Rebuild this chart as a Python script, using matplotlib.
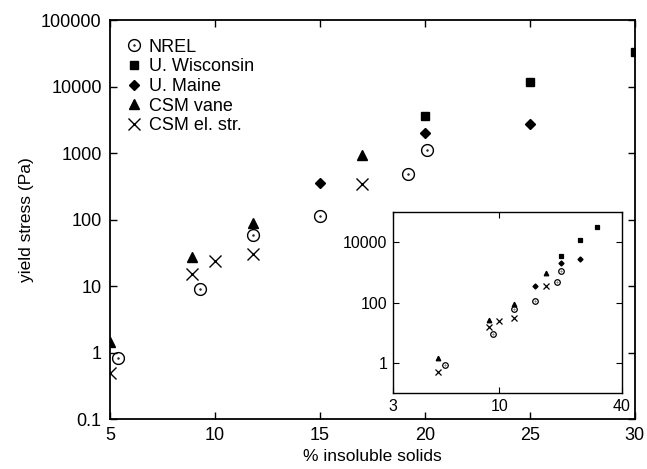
import matplotlib
matplotlib.use("Agg")
import matplotlib.pyplot as plt
from matplotlib.ticker import FixedLocator, FixedFormatter, NullLocator
from matplotlib.path import Path
import numpy as np

plt.rcParams['font.family'] = ['Liberation Sans', 'DejaVu Sans']

nrel_x = [5.4, 9.3, 11.8, 15.0, 19.2, 20.1]
nrel_y = [0.82, 9.0, 59, 112, 480, 1120]
wisc_x = [20.0, 25.0, 30.0]
wisc_y = [3600, 11700, 33000]
maine_x = [15.0, 20.0, 25.0]
maine_y = [350, 2000, 2750]
vane_x = [5.0, 8.9, 11.8, 17.0]
vane_y = [1.45, 27, 88, 930]
el_x = [5.0, 8.9, 10.0, 11.8, 17.0]
el_y = [0.49, 15, 23.5, 30, 340]

# circle-with-dot marker
_t = np.linspace(0, 2 * np.pi, 41)
_outer = np.column_stack([np.cos(_t), np.sin(_t)])
_inner = 0.08 * _outer
_verts = np.vstack([_outer, _inner])
_codes = ([Path.MOVETO] + [Path.LINETO] * 39 + [Path.CLOSEPOLY]) * 2
odot = Path(_verts, _codes)

# name, x, y, marker, main size, inset size, filled
series = [
    ("NREL", nrel_x, nrel_y, odot, 8.5, 4.0, False),
    ("U. Wisconsin", wisc_x, wisc_y, 's', 6.2, 3.3, True),
    ("U. Maine", maine_x, maine_y, 'D', 5.0, 2.6, True),
    ("CSM vane", vane_x, vane_y, '^', 6.5, 3.3, True),
    ("CSM el. str.", el_x, el_y, 'x', 8.0, 4.0, True),
]

main_xticks = [5, 10, 15, 20, 25, 30]
main_yticks = [0.1, 1, 10, 100, 1000, 10000, 100000]
main_ylabels = ["0.1", "1", "10", "100", "1000", "10000", "100000"]
inset_xticks = [3, 10, 40]
inset_xlabels = ["3", "10", "40"]
inset_yticks = [1, 100, 10000]
inset_ylabels = ["1", "100", "10000"]

fig = plt.figure(figsize=(6.47, 4.69), dpi=100)
ax = fig.add_axes([0.170, 0.1066, 0.811, 0.8507])

for name, xs, ys, m, ms, _, filled in series:
    ax.plot(xs, ys, linestyle='none', marker=m, markersize=ms, color='black',
            markerfacecolor='black' if filled else 'none',
            markeredgewidth=1.0, label=name)

ax.set_yscale('log')
ax.set_xlim(5, 30)
ax.set_ylim(0.1, 100000)
ax.xaxis.set_major_locator(FixedLocator(main_xticks))
ax.yaxis.set_major_locator(FixedLocator(main_yticks))
ax.yaxis.set_major_formatter(FixedFormatter(main_ylabels))
ax.yaxis.set_minor_locator(NullLocator())
ax.tick_params(axis='both', which='major', direction='in', top=True, right=True,
               length=5, width=1, labelsize=13, pad=6)
for s in ax.spines.values():
    s.set_linewidth(1.3)
ax.set_xlabel("% insoluble solids", fontsize=12.5, labelpad=3)
ax.set_ylabel("yield stress (Pa)", fontsize=12.5, labelpad=5)

leg = ax.legend(loc='upper left', frameon=False, fontsize=13, handlelength=0.7,
                handletextpad=0.45, labelspacing=0.15, borderaxespad=0.5,
                borderpad=0.2, bbox_to_anchor=(0.01, 0.985))

ins = fig.add_axes([0.6074, 0.162, 0.354, 0.386])
for name, xs, ys, m, _, ms, filled in series:
    ins.plot(xs, ys, linestyle='none', marker=m, markersize=ms, color='black',
             markerfacecolor='black' if filled else 'none', markeredgewidth=0.9)
ins.set_xscale('log')
ins.set_yscale('log')
ins.set_xlim(3, 40)
ins.set_ylim(0.1, 100000)
ins.xaxis.set_major_locator(FixedLocator(inset_xticks))
ins.xaxis.set_major_formatter(FixedFormatter(inset_xlabels))
ins.yaxis.set_major_locator(FixedLocator(inset_yticks))
ins.yaxis.set_major_formatter(FixedFormatter(inset_ylabels))
ins.xaxis.set_minor_locator(NullLocator())
ins.yaxis.set_minor_locator(NullLocator())
ins.tick_params(axis='both', which='major', direction='in', top=True, right=True,
                length=4, width=0.8, labelsize=11.5, pad=4)
for s in ins.spines.values():
    s.set_linewidth(1.0)

fig.savefig("out.png", dpi=100)
